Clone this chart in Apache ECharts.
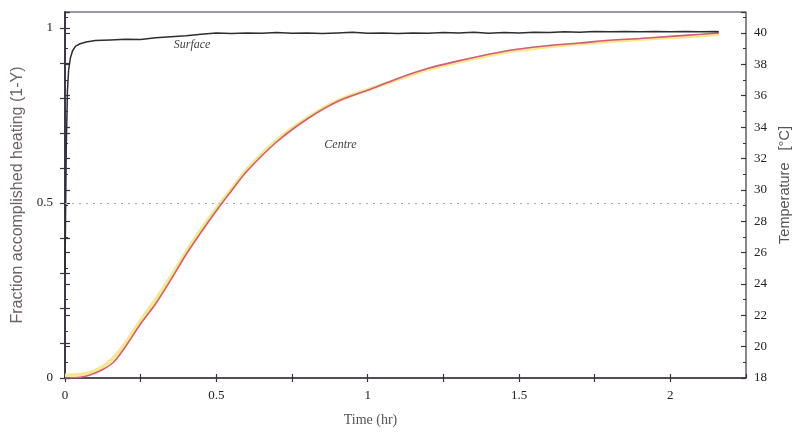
<!DOCTYPE html>
<html>
<head>
<meta charset="utf-8">
<script src="https://cdn.jsdelivr.net/npm/echarts@6/dist/echarts.min.js"></script>
<style>html,body{margin:0;padding:0;background:#fff}#c{width:798px;height:432px}</style>
</head>
<body>
<div id="c"></div>
<script>
// ---- data ----
const surfaceTime = [0, 0.004, 0.008, 0.012, 0.018, 0.025, 0.035, 0.05, 0.07, 0.1, 0.15,
  0.2, 0.25, 0.3, 0.35, 0.4, 0.45, 0.5, 0.55, 0.6, 0.65, 0.7, 0.75, 0.8, 0.85, 0.9, 0.95,
  1.0, 1.05, 1.1, 1.15, 1.2, 1.25, 1.3, 1.35, 1.4, 1.45, 1.5, 1.55, 1.6, 1.65, 1.7, 1.75,
  1.8, 1.85, 1.9, 1.95, 2.0, 2.05, 2.1, 2.15, 2.16];
const surfaceY = [0.3, 0.65, 0.82, 0.88, 0.915, 0.935, 0.948, 0.955, 0.96, 0.964, 0.966,
  0.968, 0.967, 0.972, 0.975, 0.978, 0.982, 0.986, 0.984, 0.986, 0.985, 0.987, 0.985, 0.986,
  0.984, 0.986, 0.988, 0.985, 0.986, 0.984, 0.986, 0.985, 0.987, 0.986, 0.988, 0.985, 0.987,
  0.986, 0.988, 0.987, 0.989, 0.988, 0.990, 0.989, 0.990, 0.989, 0.990, 0.989, 0.990, 0.989,
  0.990, 0.989];

const centreTime = [0, 0.05, 0.08, 0.12, 0.16, 0.2, 0.25, 0.3, 0.35, 0.4, 0.45, 0.5, 0.55,
  0.6, 0.7, 0.8, 0.9, 1.0, 1.1, 1.2, 1.3, 1.4, 1.5, 1.6, 1.7, 1.8, 1.9, 2.0, 2.1, 2.16];
const centreMeasuredY = [0, 0.002, 0.008, 0.022, 0.045, 0.09, 0.155, 0.213, 0.281, 0.353,
  0.417, 0.478, 0.535, 0.59, 0.675, 0.74, 0.79, 0.822, 0.856, 0.885, 0.906, 0.925, 0.94,
  0.95, 0.957, 0.965, 0.97, 0.976, 0.982, 0.986];
const centreModelY = [0.008, 0.01, 0.015, 0.03, 0.058, 0.1, 0.165, 0.225, 0.29, 0.36, 0.425,
  0.485, 0.54, 0.595, 0.68, 0.743, 0.792, 0.824, 0.853, 0.882, 0.903, 0.922, 0.937, 0.947,
  0.955, 0.962, 0.968, 0.973, 0.978, 0.982];

const xTickLabels = ['0', '0.5', '1', '1.5', '2'];
const leftTickLabels = ['0', '0.5', '1'];
const rightTickLabels = ['18','20','22','24','26','28','30','32','34','36','38','40'];

const surfaceLabel = 'Surface';
const centreLabel = 'Centre';

function pairs(xs, ys) { return xs.map((x, i) => [x, ys[i]]); }

const axisCol = '#3d3340';
const serif = 'Liberation Serif';
const lbl = { fontFamily: serif, fontSize: 13, color: '#222' };

const chart = echarts.init(document.getElementById('c'), null, { renderer: 'canvas' });
const xFmt = v => { const s = String(+v.toFixed(4)); return xTickLabels.includes(s) ? s : ''; };
const lFmt = v => { const s = String(+v.toFixed(4)); return leftTickLabels.includes(s) ? s : ''; };
const rFmt = v => { const s = String(+v.toFixed(4)); return rightTickLabels.includes(s) ? s : ''; };

chart.setOption({
  animation: false,
  backgroundColor: '#ffffff',
  grid: { left: 65, right: 52, top: 12, bottom: 54, containLabel: false, outerBoundsMode: 'none',
    show: true, borderColor: axisCol, borderWidth: 1.2, backgroundColor: 'transparent' },
  xAxis: [
    { type: 'value', min: 0, max: 2.25, interval: 0.25, position: 'bottom',
      name: 'Time (hr)', nameLocation: 'middle', nameGap: 35,
      nameTextStyle: { fontFamily: serif, fontSize: 14, color: '#555', padding: [0, 70, 0, 0] },
      axisLine: { show: true, lineStyle: { color: axisCol, width: 1.5 } },
      axisTick: { show: true, inside: false, length: 4, lineStyle: { color: axisCol, width: 1.2 } },
      axisLabel: Object.assign({ formatter: xFmt, margin: 11, showMaxLabel: false }, lbl),
      splitLine: { show: false } },
    { type: 'value', min: 0, max: 2.25, interval: 0.25, position: 'bottom',
      axisLine: { show: false },
      axisTick: { show: true, inside: true, length: 4, lineStyle: { color: axisCol, width: 1.2 } },
      axisLabel: { show: false }, splitLine: { show: false } }
  ],
  yAxis: [
    { type: 'value', min: 0, max: 1.0457, interval: 0.1, position: 'left',
      name: 'Fraction accomplished heating (1-Y)', nameLocation: 'middle', nameGap: 38, nameRotate: 90,
      nameTextStyle: { fontFamily: 'Liberation Sans', fontSize: 16, color: '#6e6363' },
      axisLine: { show: true, lineStyle: { color: axisCol, width: 1.5 } },
      axisTick: { show: true, inside: false, length: 5, lineStyle: { color: axisCol, width: 1.2 } },
      axisLabel: Object.assign({ formatter: lFmt, margin: 12, showMaxLabel: false }, lbl),
      splitLine: { show: false } },
    { type: 'value', min: 18, max: 41.34, interval: 2, position: 'right',
      name: 'Temperature   [°C]', nameLocation: 'middle', nameGap: 23, nameRotate: 90,
      nameTextStyle: { fontFamily: 'Liberation Sans', fontSize: 14.5, color: '#555', padding: [0, 0, 0, 20] },
      axisLine: { show: true, lineStyle: { color: axisCol, width: 1.5 } },
      axisTick: { show: true, inside: false, length: 5, lineStyle: { color: axisCol, width: 1.2 } },
      minorTick: { show: true, splitNumber: 2, length: 3, lineStyle: { color: axisCol, width: 1 } },
      axisLabel: Object.assign({ formatter: rFmt, margin: 8, showMaxLabel: false }, lbl),
      splitLine: { show: false } },
    { type: 'value', min: 0, max: 1.0457, interval: 0.1, position: 'left',
      axisLine: { show: false },
      axisTick: { show: true, inside: true, length: 5, lineStyle: { color: axisCol, width: 1.2 } },
      axisLabel: { show: false }, splitLine: { show: false } },
    { type: 'value', min: 18, max: 41.34, interval: 2, position: 'right',
      axisLine: { show: false },
      axisTick: { show: true, inside: true, length: 5, lineStyle: { color: axisCol, width: 1.2 } },
      minorTick: { show: true, splitNumber: 2, length: 3, lineStyle: { color: axisCol, width: 1 } },
      axisLabel: { show: false }, splitLine: { show: false } }
  ],
  series: [
    { type: 'line', name: 'Centre model', xAxisIndex: 0, yAxisIndex: 0, data: pairs(centreTime, centreModelY),
      showSymbol: false, smooth: 0.3, lineStyle: { color: '#f5e98a', width: 3.5 }, z: 2 },
    { type: 'line', name: 'Centre measured', xAxisIndex: 0, yAxisIndex: 0, data: pairs(centreTime, centreMeasuredY),
      showSymbol: false, smooth: 0.3, lineStyle: { color: '#d65a80', width: 1.6 }, z: 3,
      markPoint: { symbolSize: 0, data: [{ coord: [0.91, 0.666], label: { show: true, formatter: centreLabel, position: 'inside',
        fontFamily: serif, fontStyle: 'italic', fontSize: 12, color: '#444' } }] } },
    { type: 'line', name: 'Surface', xAxisIndex: 0, yAxisIndex: 0, data: pairs(surfaceTime, surfaceY),
      showSymbol: false, lineStyle: { color: '#2e2e2e', width: 1.5 }, z: 4,
      markPoint: { symbolSize: 0, data: [{ coord: [0.42, 0.951], label: { show: true, formatter: surfaceLabel, position: 'inside',
        fontFamily: serif, fontStyle: 'italic', fontSize: 12, color: '#444' } }] },
      markLine: { silent: true, symbol: 'none', label: { show: false },
        lineStyle: { color: '#aaaaaa', type: [2, 5], width: 1 }, data: [{ yAxis: 0.5 }] } }
  ]
});
</script>
</body>
</html>
